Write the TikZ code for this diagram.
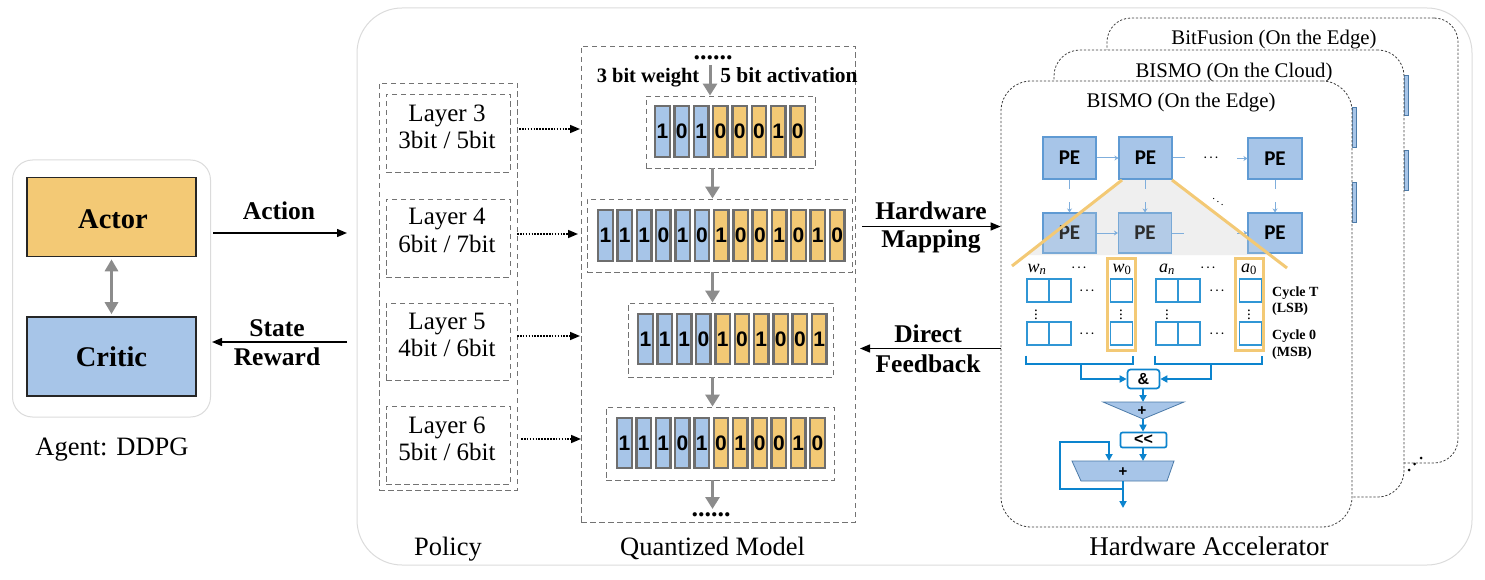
\documentclass[tikz,border=0pt]{standalone}
\usepackage{fontspec}
\setmainfont{Liberation Serif}
\newfontfamily\bitfont{Liberation Sans}
\newfontfamily\pefont{Carlito}
\usepackage{xcolor}
\usepackage{tikz}
\usetikzlibrary{arrows.meta,calc}
\definecolor{qblue}{HTML}{A7C5E8}
\definecolor{qorange}{HTML}{F3C975}
\definecolor{qgray}{HTML}{6E6E6E}
\definecolor{qarrow}{HTML}{8C8C8C}
\definecolor{qedge}{HTML}{5F9AD3}
\definecolor{qwire}{HTML}{0C84CE}
\newcommand{\fs}[1]{\fontsize{#1}{#1}\selectfont}
\newcommand{\sig}[2]{\textit{#1}\textsubscript{#2}}

\begin{document}
\begin{tikzpicture}[
  x=1pt, y=-1pt,
  txt/.style={anchor=base, inner sep=0pt, font=\fs{26.5}},
  btxt/.style={anchor=base, inner sep=0pt, font=\fs{25.5}\bfseries},
  outline/.style={draw=black!14, rounded corners=#1, line width=1pt},
  dbox/.style={draw=black!55, dash pattern=on 5.5pt off 3.5pt, line width=.9pt, inner sep=0pt},
  panel/.style={draw=black!75, fill=white, dash pattern=on 2.2pt off 1.8pt, line width=.8pt, rounded corners=30pt, inner sep=0pt},
  main/.style={draw=black!85, line width=1.6pt, minimum width=169.5pt, inner sep=0pt, font=\fs{28.5}\bfseries},
  bitcell/.style={draw=qgray, line width=2.4pt, minimum width=14.5pt, minimum height=50.5pt, inner sep=0pt, font=\bitfont\fs{21}\bfseries},
  pe/.style={draw=qedge, fill=qblue, line width=1.1pt, minimum width=53pt, minimum height=42pt, inner sep=0pt, font=\pefont\fs{21}\bfseries},
  sliver/.style={draw=qedge!80!black, fill=qblue, line width=.8pt, minimum width=4pt, minimum height=40pt, inner sep=0pt},
  cell/.style={draw=qwire!85, line width=1.4pt, minimum width=22pt, minimum height=23pt, inner sep=0pt},
  pick/.style={draw=qorange, line width=3pt, minimum width=28pt, minimum height=92pt, inner sep=0pt},
  opbox/.style={draw=qwire, fill=white, line width=1.7pt, rounded corners=3pt, inner sep=0pt, font=\bfseries\bitfont\fs{16}},
  small/.style={anchor=base west, inner sep=0pt, font=\fs{14}\bfseries},
  dotsn/.style={inner sep=0pt, font=\fs{11}\boldmath},
  vdotsn/.style={inner sep=0pt, font=\fs{15}\boldmath},
  arr/.style={-{Triangle[length=10pt,width=8pt]}, line width=1.4pt, black},
  darr/.style={-{Triangle[length=10pt,width=8pt]}, line width=1.6pt, black, dash pattern=on 1.6pt off 1.3pt},
  garr/.style={-{Triangle[length=12pt,width=14pt]}, line width=3pt, qarrow},
  link/.style={draw=qedge!80, line width=1pt},
  linka/.style={link, -{Stealth[length=4pt,width=5pt]}},
  wire/.style={draw=qwire, line width=1.8pt},
  wirea/.style={wire, -{Triangle[length=7pt,width=7pt]}},
  orangeline/.style={draw=qorange, line width=3pt},
]
\useasboundingbox (0,0) rectangle (1485,580);

% ---- outer frames ----
\node[outline=45pt, minimum width=1115pt, minimum height=557pt, inner sep=0pt] (frame) at (914.5,286.5) {};
\node[outline=20pt, minimum width=198pt, minimum height=257pt, inner sep=0pt] (agent) at (111.5,288.5) {};

% ---- agent ----
\node[main, fill=qorange, minimum height=79pt] (actor) at (111.5,217) {};
\node[main, fill=qblue, minimum height=79pt] (critic) at (111.5,356.5) {};
\node[inner sep=0pt, anchor=base, font=\fs{28.5}\bfseries] (actorlab) at (113,228) {Actor};
\node[inner sep=0pt, anchor=base, font=\fs{28.5}\bfseries] (criticlab) at (111.5,366) {Critic};
\draw[{Triangle[length=12pt,width=13pt]}-{Triangle[length=12pt,width=13pt]}, line width=3pt, qarrow]
  ([yshift=-2pt]actor.south) -- ([yshift=2pt]critic.north);
\node[txt] (agentlab) at (112,455) {Agent: DDPG};

\coordinate (actfrom) at (213,233);
\coordinate (actto) at (347,233);
\coordinate (rewfrom) at (347,342);
\coordinate (rewto) at (212,342);
\draw[arr] (actfrom) -- (actto);
\draw[arr] (rewfrom) -- (rewto);
\node[btxt] (actionlab) at (279,219) {Action};
\node[btxt] (statelab) at (277,336) {State};
\node[btxt] (rewardlab) at (277,365) {Reward};

% ---- policy ----
\node[dbox, minimum width=138pt, minimum height=407pt] (policy) at (448,286.5) {};
\foreach \lname/\ya/\hgt/\bla/\wbits/\abits in {
    l3/133/78/122/3/5, l4/238/78/225/6/7, l5/341.5/77/329/4/6, l6/445/78/433/5/6} {
  \node[dbox, minimum width=124pt, minimum height=\hgt pt] (\lname) at (448,\ya) {};
  \node[txt, font=\fs{25}] (\lname a) at (447,\bla) {Layer \ifnum\wbits=3 3\else\ifnum\wbits=6 4\else\ifnum\wbits=4 5\else 6\fi\fi\fi};
  \node[txt, font=\fs{25}] (\lname b) at (447,\bla+27) {\wbits bit / \abits bit};
}
\node[txt] (policylab) at (448,555) {Policy};

\coordinate (p3a) at (519,129);  \coordinate (p3b) at (580,129);
\coordinate (p4a) at (517,234);  \coordinate (p4b) at (578,234);
\coordinate (p5a) at (517,336);  \coordinate (p5b) at (580,336);
\coordinate (p6a) at (521,439);  \coordinate (p6b) at (581,439);
\draw[darr] (p3a) -- (p3b);
\draw[darr] (p4a) -- (p4b);
\draw[darr] (p5a) -- (p5b);
\draw[darr] (p6a) -- (p6b);

% ---- quantized model ----
\node[dbox, minimum width=274pt, minimum height=476pt] (model) at (718,284) {};
\node[dbox, minimum width=169pt, minimum height=72pt] (row1) at (730.5,132) {};
\node[dbox, minimum width=265pt, minimum height=73pt] (row2) at (719.5,235.5) {};
\node[dbox, minimum width=205pt, minimum height=74pt] (row3) at (730.5,340) {};
\node[dbox, minimum width=228pt, minimum height=73pt] (row4) at (720,443.5) {};

\foreach \rowid/\xa/\ya/\nw/\bits in {
    r1/662.5/131.5/3/{1,0,1,0,0,0,1,0},
    r2/605.5/235.5/6/{1,1,1,0,1,0,1,0,0,1,0,1,0},
    r3/645.5/339/4/{1,1,1,0,1,0,1,0,0,1},
    r4/624.5/443/5/{1,1,1,0,1,0,1,0,0,1,0}} {
  \foreach \bit [count=\i] in \bits {
    \ifnum\i>\nw \def\cellfill{qorange}\else \def\cellfill{qblue}\fi
    \node[bitcell, fill=\cellfill] (\rowid b\i) at ({\xa+(\i-1)*19.3},\ya) {\bit};
  }
}

\node[anchor=base, inner sep=0pt, font=\fs{26}\bfseries] (dotstop) at (713,60) {......};
\node[anchor=base, inner sep=0pt, font=\fs{26}\bfseries] (dotsbot) at (711,516) {......};
\node[anchor=base, inner sep=0pt, font=\fs{20.5}\bfseries] (wlab) at (648,83) {3 bit weight};
\node[anchor=base, inner sep=0pt, font=\fs{21.5}\bfseries] (alab) at (789,83) {5 bit activation};
\node[txt] (modellab) at (712.5,555) {Quantized Model};

\coordinate (gtop) at (710,65);
\coordinate (gbot) at (712.5,509);
\coordinate (lane) at (712.5,0);
\draw[garr] (gtop) -- (gtop |- row1.north);
\draw[garr] (lane |- row1.south) -- (lane |- row2.north);
\draw[garr] (lane |- row2.south) -- (lane |- row3.north);
\draw[garr] (lane |- row3.south) -- (lane |- row4.north);
\draw[garr] (lane |- row4.south) -- (gbot);

% ---- hardware panels, back to front ----
\node[panel, rounded corners=24pt, minimum width=351pt, minimum height=445pt] (backp) at (1282.5,240.5) {};
\node[anchor=base, inner sep=0pt, font=\fs{20.8}] (backlab) at (1274,45) {BitFusion (On the Edge)};
\node[sliver] (s1) at (1406,95) {};
\node[sliver] (s2) at (1406,170) {};
\node[panel, rounded corners=26pt, minimum width=350pt, minimum height=447pt] (midp) at (1229,273.5) {};
\node[anchor=base, inner sep=0pt, font=\fs{20.8}] (midlab) at (1234,78) {BISMO (On the Cloud)};
\fill (1421,458) circle (1.5pt) (1414.5,464) circle (1.5pt) (1409,470) circle (1.5pt);
\node[sliver] (s3) at (1354,127.5) {};
\node[sliver] (s4) at (1354,202) {};
\node[panel, minimum width=351pt, minimum height=446pt] (front) at (1176.5,304) {};
\node[anchor=base, inner sep=0pt, font=\fs{20.8}] (frontlab) at (1181,108) {BISMO (On the Edge)};
\node[txt, font=\fs{27}] (hwlab) at (1209,555) {Hardware Accelerator};

% ---- PE array ----
\coordinate (t1) at (1122,180);  \coordinate (t2) at (1172,180);
\coordinate (t3) at (1270,255);  \coordinate (t4) at (1026,255);
\fill[black!5] (t1) -- (t2) -- (t3) -- (t4) -- cycle;
\node[pe] (pe11) at (1069.5,158) {PE};
\node[pe] (pe12) at (1145.5,158) {PE};
\node[pe, minimum width=54pt, minimum height=41pt] (pe13) at (1275,158.5) {PE};
\node[pe, minimum height=40pt] (pe21) at (1069.5,233) {PE};
\node[pe, minimum height=40pt] (pe22) at (1145,233) {PE};
\node[pe, minimum width=54pt, minimum height=40pt] (pe23) at (1275,233) {PE};
\fill[black!10, opacity=.2] (t1) -- (t2) -- (t3) -- (t4) -- cycle;
\node[dotsn] (hdots1) at (1211,158) {$\cdots$};
\node[dotsn] (ddots1) at (1218,199) {$\ddots$};

\draw[linka] (pe11) -- (pe12);
\draw[link] (pe12.east) -- ++(12,0);
\draw[linka] ([xshift=-10pt]pe13.west) -- (pe13.west);
\draw[linka] (pe21) -- (pe22);
\draw[link] (pe22.east) -- ++(12,0);
\draw[linka] ([xshift=-10pt]pe23.west) -- (pe23.west);
\foreach \pa/\pb in {pe11/pe21, pe12/pe22, pe13/pe23} {
  \draw[link] (\pa.south) -- ++(0,9);
  \draw[linka] ([yshift=10pt]\pb.north) -- (\pb.north);
}
\draw[orangeline] (t1) -- (1012,266);
\draw[orangeline] (t2) -- (1287,268);

% ---- bit-serial registers ----
\foreach \cname/\xa in {w1/1038, w2/1060, w3/1121.5, a1/1167, a2/1189, a3/1250.5} {
  \node[cell] (\cname t) at (\xa,290.5) {};
  \node[cell] (\cname b) at (\xa,333.5) {};
}
\node[pick] (wpick) at (1121,304.5) {};
\node[pick] (apick) at (1249.5,304.5) {};
\node[anchor=base, inner sep=0pt, font=\fs{18}] (wnlab) at (1037,272) {\sig{w}{\textit{n}}};
\node[anchor=base, inner sep=0pt, font=\fs{18}] (w0lab) at (1122,272) {\sig{w}{0}};
\node[anchor=base, inner sep=0pt, font=\fs{18}] (anlab) at (1167,272) {\sig{a}{\textit{n}}};
\node[anchor=base, inner sep=0pt, font=\fs{18}] (a0lab) at (1249,272) {\sig{a}{0}};
\foreach \dname/\xa/\ya in {d1/1079/268, d2/1208/268, d3/1087/291, d4/1217/291, d5/1087/334, d6/1217/334} {
  \node[dotsn] (\dname) at (\xa,\ya) {$\cdots$};
}
\foreach \vname/\xa in {v1/1036, v2/1121, v3/1167, v4/1249} {
  \node[vdotsn] (\vname) at (\xa,312) {$\vdots$};
}
\node[small] (cyclet) at (1272,296) {Cycle T};
\node[small] (lsb) at (1272,312) {(LSB)};
\node[small] (cycle0) at (1272,339) {Cycle 0};
\node[small] (msb) at (1272,356) {(MSB)};

% ---- datapath ----
\draw[wire] ([yshift=-10pt]w1b.south west) |- ([yshift=-18pt]w3b.south east) -- ([yshift=-10pt]w3b.south east);
\draw[wire] ([yshift=-10pt]a1b.south west) |- ([yshift=-18pt]a3b.south east) -- ([yshift=-10pt]a3b.south east);
\node[opbox, minimum width=32pt, minimum height=19pt] (andop) at (1143.5,379) {\&};
\node[opbox, minimum width=46pt, minimum height=15pt, rounded corners=2pt] (shiftop) at (1143.5,440) {<<};
\coordinate (wtap) at (1081,363);
\coordinate (atap) at (1211,363);
\draw[wirea] (wtap) |- (andop.west);
\draw[wirea] (atap) |- (andop.east);

\coordinate (sumtop) at (1143,402);
\coordinate (sumtip) at (1143,419);
\draw[draw=qedge!80!black, fill=qblue, line width=.8pt] (1103,402) -- (1184,402) -- (sumtip) -- cycle;
\node[inner sep=0pt, font=\bitfont\fs{15}\bfseries] (sumsign) at (1142,411) {+};
\coordinate (addtop) at (1143,461);
\coordinate (addret) at (1109,461);
\coordinate (addout) at (1123,481);
\draw[draw=qedge!80!black, fill=qblue, line width=.8pt] (1072,461) -- (1174,461) -- (1167,481) -- (1081,481) -- cycle;
\draw[wirea] (andop.south -| sumtop) -- (sumtop);
\draw[wirea] (sumtip) -- (shiftop.north -| sumtip);
\draw[wirea] (shiftop.south -| addtop) -- (addtop);
\coordinate (hwout) at (1123,508);
\coordinate (loopa) at (1123,489);
\coordinate (loopb) at (1060,442);
\draw[wirea] (addout) -- (hwout);
\draw[wirea] (loopa) -| (loopb) -| (addret);
\node[inner sep=0pt, font=\bitfont\fs{15}\bfseries] (addsign) at (1123,472) {+};

% ---- mapping and feedback ----
\coordinate (mapfrom) at (862,226.5);
\coordinate (fbfrom) at (1001,348.5);
\coordinate (fbto) at (860,348.5);
\draw[arr] (mapfrom) -- (mapfrom -| front.west);
\draw[arr] (fbfrom) -- (fbto);
\node[btxt] (hwmap1) at (931,219) {Hardware};
\node[btxt] (hwmap2) at (931,247) {Mapping};
\node[btxt] (fb1) at (928,342) {Direct};
\node[btxt] (fb2) at (928,372) {Feedback};
\end{tikzpicture}
\end{document}
